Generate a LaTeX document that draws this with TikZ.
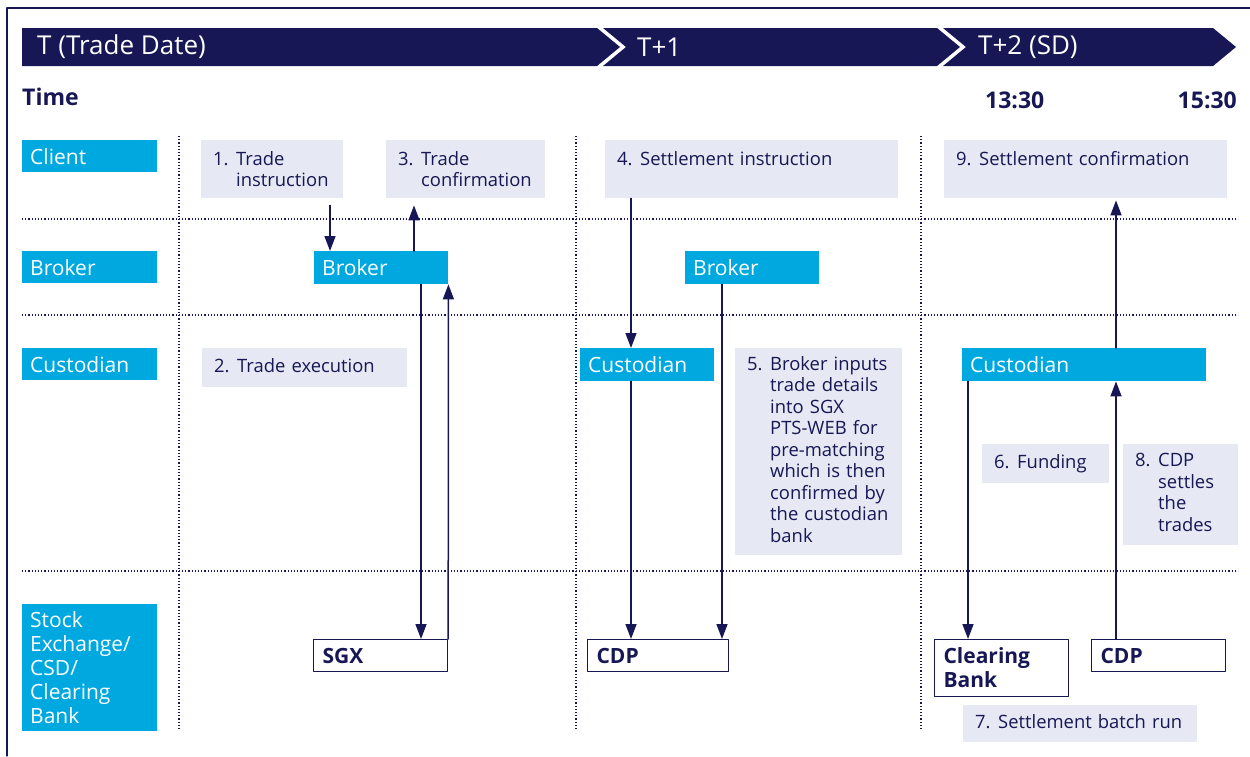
\documentclass[tikz,border=0pt]{standalone}
\usepackage{fontspec}
\setmainfont{Open Sans}
\usetikzlibrary{arrows.meta}

\definecolor{navy}{RGB}{22,23,84}
\definecolor{cyanbox}{RGB}{0,168,224}
\definecolor{greybg}{RGB}{230,233,243}

\newcommand\hdrfont{\fontsize{26}{30}\selectfont}
\newcommand\actorfont{\fontsize{21}{24}\selectfont}
\newcommand\stepfont{\fontsize{18.4}{21.5}\selectfont}
\newcommand\timefont{\fontsize{23}{26}\selectfont\bfseries}
\newcommand\venuefont{\fontsize{21}{24}\selectfont\bfseries}
\newcommand\stepnum[2]{\makebox[23pt][l]{#1}\begin{tabular}[t]{@{}l@{}}#2\end{tabular}}

\begin{document}
\begin{tikzpicture}[
			x=1pt, y=-1pt,
			line cap=round,
			line join=round,
			actor/.style={fill=cyanbox, text=white, font=\actorfont, anchor=north west, inner xsep=8pt, inner ysep=0pt, align=left},
			stepbox/.style={fill=greybg, text=navy, font=\stepfont, anchor=north west, inner xsep=12pt, inner ysep=0pt, align=left},
			venue/.style={draw=navy, line width=1.2pt, fill=white, text=navy, font=\venuefont, anchor=north west, inner xsep=9pt, inner ysep=0pt, align=left},
			flow/.style={draw=navy, line width=1.5pt, -{Triangle[width=11pt,length=15pt]}},
			lane/.style={navy, line width=1.1pt, line cap=butt, dash pattern=on 1.2pt off 2pt},
			stamp/.style={text=navy, font=\timefont, inner sep=0pt}
			]
			\useasboundingbox (0,0) rectangle (1250,756);
			
			% Frame
			\draw[navy, line width=1.2pt] (7,756) -- (7,8) -- (1250,8);
			
			% Day band
			\fill[navy] (22,28) -- (597,28) -- (620,47) -- (597,66) -- (22,66) -- cycle;
			\fill[navy] (603,28) -- (937,28) -- (960,47) -- (937,66) -- (603,66) -- (626,47) -- cycle;
			\fill[navy] (943,28) -- (1213,28) -- (1236,47) -- (1213,66) -- (943,66) -- (966,47) -- cycle;
			\node[anchor=west, text=white, font=\hdrfont, inner sep=0pt] (dayT) at (37,47) {T (Trade Date)};
			\node[anchor=west, text=white, font=\hdrfont, inner sep=0pt] (dayT1) at (637,47) {T+1};
			\node[anchor=west, text=white, font=\hdrfont, inner sep=0pt] (dayT2) at (978,47) {T+2 (SD)};
			
			% Time row
			\node[stamp, anchor=west] (timeLbl) at (22,97) {Time};
			\node[stamp, anchor=west] (t1330) at (985,100) {13:30};
			\node[stamp, anchor=east] (t1530) at (1237,100) {15:30};
			
			% Lanes
			\foreach \y in {219,315,571}
				\draw[lane] (22,\y) -- (1238,\y);
			\foreach \x in {179,576,921}
				\draw[lane] (\x,136) -- (\x,729);
			
			% Row labels
			\node[actor, text width=119pt, minimum height=32pt] (rowClient) at (22,140) {Client};
			\node[actor, text width=119pt, minimum height=32pt] (rowBroker) at (22,251) {Broker};
			\node[actor, text width=119pt, minimum height=32pt] (rowCust) at (22,348) {Custodian};
			\node[actor, text width=119pt, minimum height=127pt] (rowExch) at (22,604) {Stock\\Exchange/\\CSD/\\Clearing\\Bank};
			
			% Steps
			\node[stepbox, text width=118pt, minimum height=58pt, text height=20pt] (s1) at (201,140) {\stepnum{1.}{Trade\\instruction}};
			\node[stepbox, text width=135pt, minimum height=58pt, text height=20pt] (s3) at (386,140) {\stepnum{3.}{Trade\\confirmation}};
			\node[stepbox, text width=269pt, minimum height=58pt, text depth=23pt] (s4) at (605,140) {\stepnum{4.}{Settlement instruction}};
			\node[stepbox, text width=259pt, minimum height=58pt, text depth=23pt] (s9) at (944,140) {\stepnum{9.}{Settlement confirmation}};
			\node[stepbox, text width=181pt, minimum height=39pt] (s2) at (202,348) {\stepnum{2.}{Trade execution}};
			\node[stepbox, text width=143pt, minimum height=207pt] (s5) at (735,348) {\stepnum{5.}{Broker inputs\\trade details\\into SGX\\PTS-WEB for\\pre-matching\\which is then\\confirmed by\\the custodian\\bank}};
			\node[stepbox, text width=103pt, minimum height=39pt] (s6) at (982,444) {\stepnum{6.}{Funding}};
			\node[stepbox, text width=91pt, minimum height=101pt] (s8) at (1123,444) {\stepnum{8.}{CDP\\settles\\the\\trades}};
			\node[stepbox, text width=210pt, minimum height=37pt] (s7) at (963,705) {\stepnum{7.}{Settlement batch run}};
			
			% Parties
			\node[actor, text width=118pt, minimum height=33pt] (brkT) at (314,251) {Broker};
			\node[actor, text width=118pt, minimum height=33pt] (brkT1) at (685,251) {Broker};
			\node[actor, text width=118pt, minimum height=33pt] (custT1) at (580,348) {Custodian};
			\node[actor, text width=228pt, minimum height=33pt] (custT2) at (962,348) {Custodian};
			
			% Venues
			\node[venue, text width=116pt, minimum height=32pt] (sgx) at (313,639) {SGX};
			\node[venue, text width=123pt, minimum height=32pt] (cdpT1) at (587,639) {CDP};
			\node[venue, text width=116pt, minimum height=57pt] (clrBank) at (934,639) {Clearing\\Bank};
			\node[venue, text width=116pt, minimum height=32pt] (cdpT2) at (1091,639) {CDP};
			
			% Flows
			\draw[flow] ([xshift=129pt,yshift=-7pt]s1.south west) -- ([xshift=16pt]brkT.north west);
			\draw[flow] ([xshift=100pt]brkT.north west) -- ([xshift=28pt,yshift=-7pt]s3.south west);
			\draw[flow] ([xshift=107pt]brkT.south west) -- ([xshift=108pt]sgx.north west);
			\draw[flow] (sgx.north east) -- (brkT.south east);
			\draw[flow] ([xshift=26pt]s4.south west) -- ([xshift=51pt]custT1.north west);
			\draw[flow] ([xshift=51pt]custT1.south west) -- ([xshift=44pt]cdpT1.north west);
			\draw[flow] ([xshift=37pt]brkT1.south west) -- ([xshift=135pt]cdpT1.north west);
			\draw[flow] ([xshift=6pt]custT2.south west) -- ([xshift=34pt]clrBank.north west);
			\draw[flow] ([xshift=25pt]cdpT2.north west) -- ([xshift=154pt]custT2.south west);
			\draw[flow] ([xshift=154pt]custT2.north west) -- ([xshift=172pt,yshift=-2pt]s9.south west);
		\end{tikzpicture}
\end{document}
